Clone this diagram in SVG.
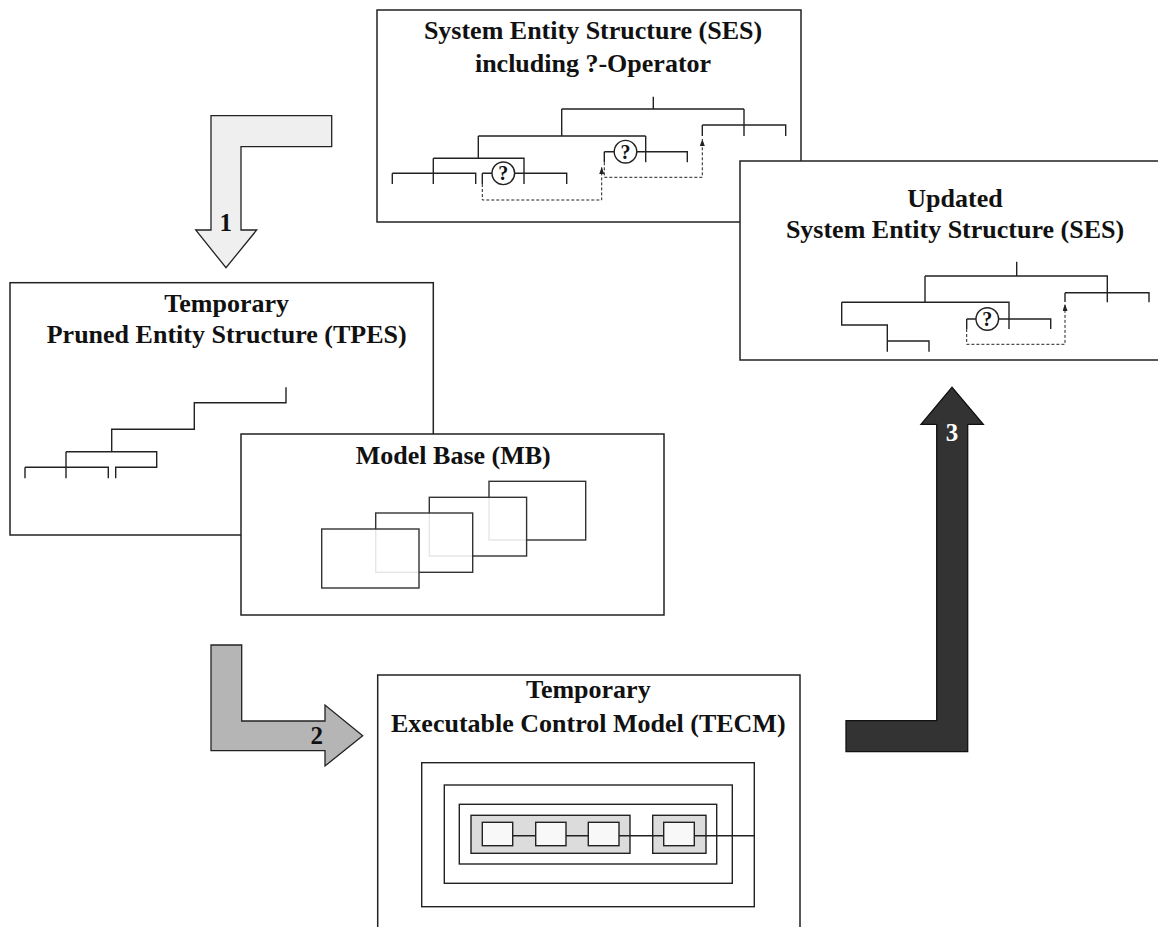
<svg xmlns="http://www.w3.org/2000/svg" width="1158" height="927" viewBox="0 0 1158 927">
<style>
.box{fill:#fff;stroke:#222;stroke-width:1.5}
.title{font-family:"Liberation Serif","Times New Roman",serif;font-weight:bold;font-size:26px;text-anchor:middle;fill:#111}
.tree{fill:none;stroke:#222;stroke-width:1.4}
.dash{fill:none;stroke:#222;stroke-width:1;stroke-dasharray:3,2}
.q{fill:#fff;stroke:#222;stroke-width:1.4}
.qt{font-family:"Liberation Serif","Times New Roman",serif;font-weight:bold;font-size:20px;text-anchor:middle;fill:#111}
.mbr{fill:#fff;fill-opacity:0.88;stroke:#333;stroke-width:1.4}
.lbl{font-family:"Liberation Serif","Times New Roman",serif;font-weight:bold;font-size:25px;text-anchor:middle}
</style>
<defs>
<marker id="ah" markerUnits="userSpaceOnUse" markerWidth="8" markerHeight="6" refX="7" refY="2.5" orient="auto">
<path d="M0,0 L7,2.5 L0,5 z" fill="#222"/>
</marker>
</defs>

<g id="ses">
<rect class="box" x="377" y="10" width="424" height="212"/>
<text class="title" x="593" y="38.5">System Entity Structure (SES)</text>
<text class="title" x="593" y="72">including ?-Operator</text>
<path class="tree" d="M653.3,96.7 V109 M561.7,109 H744 M744,109 V136 M702.3,125 H785.7 V136 M702.3,125 V136 M561.7,109 V136 M478.3,136 H645.7 M645.7,136 V162.3 M604.3,151.7 H687.3 V162.3 M604.3,151.7 V162.3 M478.3,136 V158.3 M433.3,158.3 H524 V184 M433.3,158.3 V184 M392.3,173.3 H475.7 V184 M392.3,173.3 V184 M482.3,173.3 H566.7 V184 M482.3,173.3 V184"/>
<path class="dash" d="M482.3,184 V200 H601.7 V167" marker-end="url(#ah)"/>
<path class="dash" d="M604.3,162.3 V177.3 H702.3 V139" marker-end="url(#ah)"/>
<circle class="q" cx="503.3" cy="173.3" r="11.3"/>
<text class="qt" x="503.3" y="180.3">?</text>
<circle class="q" cx="625.5" cy="151.7" r="11.3"/>
<text class="qt" x="625.5" y="158.7">?</text>
</g>

<g id="updated-ses">
<rect class="box" x="740" y="161" width="425" height="199"/>
<text class="title" x="955" y="206.7">Updated</text>
<text class="title" x="955" y="238.3">System Entity Structure (SES)</text>
<path class="tree" d="M1016.7,261.7 V276 M925,276 H1107.3 V302.3 M1065,292.7 H1149 V302.3 M1065,292.7 V302 M925,276 V302.3 M841.7,302.3 H1009 V329 M841.7,302.3 V325 H887.3 V351.7 M887.3,341 H929 V351.7 M966.7,319 H1050.7 V329 M966.7,319 V329"/>
<path class="dash" d="M966.7,329 V344.3 H1065 V304" marker-end="url(#ah)"/>
<circle class="q" cx="987.3" cy="319" r="11.3"/>
<text class="qt" x="987.3" y="326">?</text>
</g>

<g id="tpes">
<rect class="box" x="10" y="282.7" width="423.3" height="252.3"/>
<text class="title" x="226.7" y="311.7">Temporary</text>
<text class="title" x="226.7" y="343.3">Pruned Entity Structure (TPES)</text>
<path class="tree" d="M286,387.3 V402.7 H194.3 V429.3 H111.7 V451.7 M66,451.7 H156.7 V467.3 H115.7 V478.3 M66,451.7 V478.3 M25,467.3 H108.3 V478.3 M25,467.3 V478.3"/>
</g>

<g id="mb">
<rect class="box" x="241" y="434" width="423" height="181"/>
<text class="title" x="453.3" y="464.3">Model Base (MB)</text>
<rect class="mbr" x="489" y="481.3" width="96.7" height="58.7"/>
<rect class="mbr" x="429.3" y="497.3" width="97.3" height="58.7"/>
<rect class="mbr" x="375.7" y="513" width="97" height="59.3"/>
<rect class="mbr" x="321.7" y="529" width="97.3" height="59"/>
</g>

<g id="tecm">
<rect class="box" x="377.7" y="675" width="422.3" height="270"/>
<text class="title" x="588.3" y="698.3">Temporary</text>
<text class="title" x="588.3" y="731.7">Executable Control Model (TECM)</text>
<rect x="421.7" y="762.7" width="332.6" height="144" fill="none" stroke="#222" stroke-width="1.4"/>
<rect x="444.3" y="785" width="288" height="98.3" fill="none" stroke="#222" stroke-width="1.4"/>
<rect x="459.3" y="804.3" width="257.4" height="59.7" fill="none" stroke="#222" stroke-width="1.4"/>
<rect x="471" y="815.3" width="159" height="38" fill="#dcdcdc" stroke="#222" stroke-width="1.4"/>
<rect x="652.7" y="815.3" width="53.3" height="38" fill="#dcdcdc" stroke="#222" stroke-width="1.4"/>
<path d="M512.7,835.7 H535.7 M566,835.7 H588.3 M619,835.7 H663.7 M694.3,835.7 H754.3" stroke="#222" stroke-width="1.4"/>
<rect x="482.3" y="822.3" width="30.4" height="23.4" fill="#f8f8f8" stroke="#222" stroke-width="1.4"/>
<rect x="535.7" y="822.3" width="30.3" height="23.4" fill="#f8f8f8" stroke="#222" stroke-width="1.4"/>
<rect x="588.3" y="822.3" width="30.7" height="23.4" fill="#f8f8f8" stroke="#222" stroke-width="1.4"/>
<rect x="663.7" y="822.3" width="30.6" height="23.4" fill="#f8f8f8" stroke="#222" stroke-width="1.4"/>
</g>

<g id="connectors">
<g id="arrow1">
<path d="M211,115.7 H331.7 V146.7 H241 V230 H256.7 L226,267.7 L195.7,230 H211 Z" fill="#efefef" stroke="#222" stroke-width="1.3"/>
<text class="lbl" x="225.7" y="231" fill="#111">1</text>
</g>
<g id="arrow2">
<path d="M211,645 H241.7 V721 H325 V705 L362.7,735.7 L325,766 V750.7 H211 Z" fill="#b5b5b5" stroke="#222" stroke-width="1.3"/>
<text class="lbl" x="316.7" y="744.3" fill="#111">2</text>
</g>
<g id="arrow3">
<path d="M846,751.7 V720.7 H936.7 V424.3 H921 L952,387.3 L983.3,424.3 H967.7 V751.7 Z" fill="#333" stroke="#111" stroke-width="1.3"/>
<text class="lbl" x="952" y="440.7" fill="#fff">3</text>
</g>
</g>
</svg>
